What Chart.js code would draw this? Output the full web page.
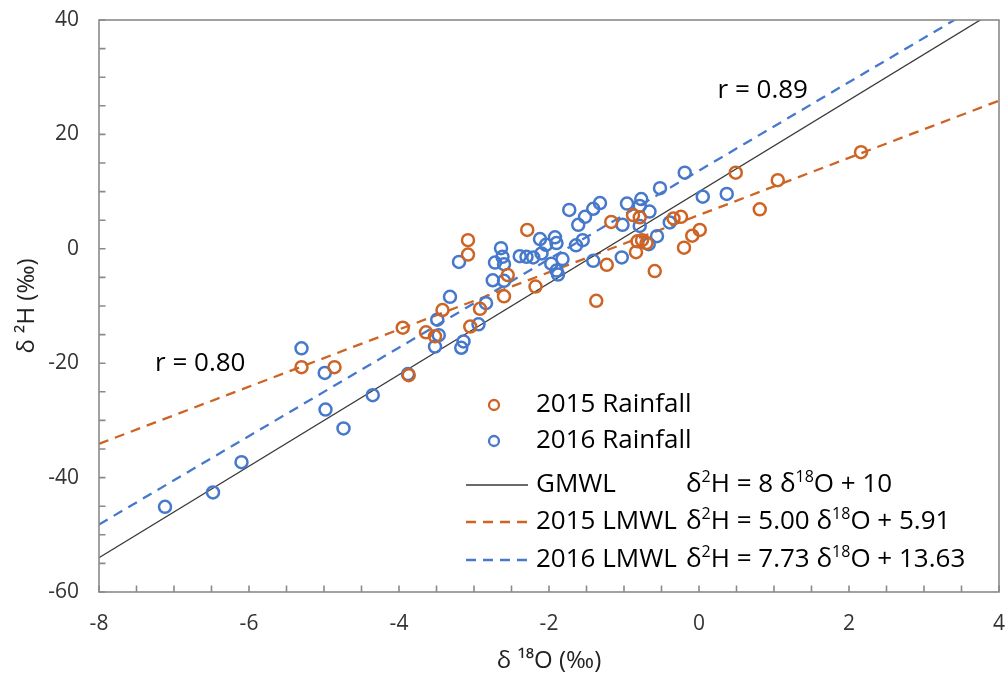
<!DOCTYPE html>
<html>
<head>
<meta charset="utf-8">
<script src="https://cdn.jsdelivr.net/npm/chart.js@4.4.1/dist/chart.umd.min.js"></script>
<style>
  html, body { margin: 0; padding: 0; background: #ffffff; }
  #wrap { width: 1008px; height: 678px; }
</style>
</head>
<body>
<div id="wrap"><canvas id="c" width="1008" height="678"></canvas></div>
<script>
// ---------------- data ----------------
const rain2015X = [-5.30,-4.86,-3.87,-3.95,-3.64,-3.52,-3.42,-3.05,-2.92,-3.08,-3.08,-2.60,-2.55,-2.29,-2.18,-1.37,-1.23,-1.17,-0.88,-0.79,-0.34,-0.24,-0.82,-0.76,-0.70,-0.84,-0.59,-0.20,-0.09,0.01,0.49,0.81,1.05,2.16];
const rain2015Y = [-20.7,-20.7,-22.1,-13.8,-14.6,-15.3,-10.7,-13.6,-10.5,1.5,-1.0,-8.3,-4.6,3.3,-6.6,-9.1,-2.8,4.7,5.9,5.5,5.3,5.6,1.3,1.5,1.0,-0.6,-3.9,0.2,2.3,3.3,13.3,6.9,12.0,16.9];

const rain2016X = [-7.12,-6.48,-6.10,-5.30,-4.99,-4.98,-4.74,-4.35,-3.88,-3.49,-3.47,-3.52,-3.32,-3.20,-3.14,-3.17,-2.94,-2.84,-2.75,-2.60,-2.64,-2.62,-2.72,-2.60,-2.39,-2.30,-2.21,-2.12,-2.04,-2.10,-1.92,-1.90,-1.97,-1.82,-1.90,-1.88,-1.73,-1.61,-1.52,-1.55,-1.64,-1.41,-1.41,-1.32,-1.03,-1.02,-0.96,-0.77,-0.79,-0.66,-0.79,-0.56,-0.67,-0.52,-0.39,-0.19,0.05,0.37];
const rain2016Y = [-45.1,-42.6,-37.3,-17.4,-21.7,-28.1,-31.4,-25.6,-21.9,-12.4,-15.1,-17.1,-8.4,-2.3,-16.2,-17.3,-13.2,-9.5,-5.5,-5.6,0.1,-1.4,-2.4,-2.7,-1.3,-1.4,-1.5,1.7,0.7,-0.8,2.0,1.0,-2.6,-1.8,-3.8,-4.5,6.8,4.2,5.6,1.5,0.6,-2.1,7.0,8.0,-1.5,4.2,7.9,8.7,7.5,6.5,4.0,2.2,0.8,10.6,4.6,13.3,9.1,9.6];

// water line end points
const gmwlX = [-8, 4];
const gmwlY = [-54, 42];
const lmwl2015X = [-8, 4];
const lmwl2015Y = [-34.1, 25.9];
const lmwl2016X = [-8, 4];
const lmwl2016Y = [-48.2, 44.6];

// ticks
const xTickValues = [-8, -6, -4, -2, 0, 2, 4];
const yTickValues = [-60, -40, -20, 0, 20, 40];

// texts
const seriesNames = ['2015 Rainfall', '2016 Rainfall', 'GMWL', '2015 LMWL', '2016 LMWL'];
const equations = [
  null,
  null,
  [['δ'], ['2', 1], ['H = 8 δ'], ['18', 1], ['O + 10']],
  [['δ'], ['2', 1], ['H = 5.00 δ'], ['18', 1], ['O + 5.91']],
  [['δ'], ['2', 1], ['H = 7.73 δ'], ['18', 1], ['O + 13.63']]
];
const rLabels = ['r = 0.89', 'r = 0.80'];
const rLabelX = [0.85, -6.65];
const rLabelY = [27.6, -20.0];
const xTitle = 'δ ¹⁸O (‰)';
const yTitle = 'δ ²H (‰)';

// ---------------- styling ----------------
const ORANGE = '#CD6424';
const BLUE = '#4678CC';
const FRAME = '#8a8a8a';
const FONT = '"Open Sans", "Noto Sans", sans-serif';

const pts = (xs, ys) => xs.map((v, i) => ({ x: v, y: ys[i] }));

function drawRich(ctx, x, y, parts, size, color) {
  let cx = x;
  ctx.fillStyle = color;
  ctx.textAlign = 'left';
  ctx.textBaseline = 'middle';
  for (const p of parts) {
    const sup = p[1] === 1;
    const s = sup ? Math.round(size * 0.62) : size;
    ctx.font = s + 'px ' + FONT;
    ctx.fillText(p[0], cx, sup ? y - size * 0.3 : y);
    cx += ctx.measureText(p[0]).width;
  }
}

const decor = {
  id: 'decor',
  afterDraw(chart) {
    const { ctx, chartArea: a, scales } = chart;
    const xs = scales.x, ys = scales.y;
    ctx.save();
    // frame
    ctx.strokeStyle = FRAME;
    ctx.lineWidth = 1.6;
    ctx.strokeRect(a.left, a.top, a.right - a.left, a.bottom - a.top);
    // inward tick marks
    ctx.beginPath();
    for (let v = xs.min; v <= xs.max + 1e-9; v += 0.5) {
      const px = xs.getPixelForValue(v);
      ctx.moveTo(px, a.bottom);
      ctx.lineTo(px, a.bottom - 6.5);
    }
    for (let v = ys.min; v <= ys.max + 1e-9; v += 5) {
      const py = ys.getPixelForValue(v);
      ctx.moveTo(a.left, py);
      ctx.lineTo(a.left + 6.5, py);
    }
    ctx.stroke();

    // r annotations
    ctx.fillStyle = '#000';
    ctx.font = '26px ' + FONT;
    ctx.textAlign = 'center';
    ctx.textBaseline = 'middle';
    rLabels.forEach((t, i) => {
      ctx.fillText(t, xs.getPixelForValue(rLabelX[i]), ys.getPixelForValue(rLabelY[i]));
    });

    // legend
    const rowsY = [405, 441, 485, 522, 560];
    const symX = 466, symW = 62, textX = 536, eqX = 686;
    chart.data.datasets.forEach((ds, i) => {
      const yy = rowsY[i];
      ctx.strokeStyle = ds.borderColor;
      if (ds.showLine) {
        ctx.lineWidth = ds.borderWidth;
        ctx.setLineDash(ds.borderDash || []);
        ctx.beginPath();
        ctx.moveTo(symX, yy);
        ctx.lineTo(symX + symW, yy);
        ctx.stroke();
        ctx.setLineDash([]);
      } else {
        ctx.lineWidth = 2.3;
        ctx.beginPath();
        ctx.arc(symX + symW / 2 - 3, yy, 5, 0, Math.PI * 2);
        ctx.stroke();
      }
      ctx.fillStyle = '#000';
      ctx.font = '26px ' + FONT;
      ctx.textAlign = 'left';
      ctx.textBaseline = 'middle';
      ctx.fillText(seriesNames[i], textX, yy);
      if (equations[i]) drawRich(ctx, eqX, yy, equations[i], 26, '#000');
    });
    ctx.restore();
  }
};

const chart = new Chart(document.getElementById('c'), {
  type: 'scatter',
  data: {
    datasets: [
      {
        label: seriesNames[0], data: pts(rain2015X, rain2015Y),
        borderColor: ORANGE, backgroundColor: 'rgba(0,0,0,0)',
        pointRadius: 6, pointBorderWidth: 2.5, pointHoverRadius: 6, showLine: false
      },
      {
        label: seriesNames[1], data: pts(rain2016X, rain2016Y),
        borderColor: BLUE, backgroundColor: 'rgba(0,0,0,0)',
        pointRadius: 6, pointBorderWidth: 2.5, pointHoverRadius: 6, showLine: false
      },
      {
        label: seriesNames[2], data: pts(gmwlX, gmwlY),
        borderColor: '#3a3a3a', borderWidth: 1.3, pointRadius: 0, showLine: true, fill: false
      },
      {
        label: seriesNames[3], data: pts(lmwl2015X, lmwl2015Y),
        borderColor: ORANGE, borderWidth: 2.3, borderDash: [10, 7], pointRadius: 0, showLine: true, fill: false
      },
      {
        label: seriesNames[4], data: pts(lmwl2016X, lmwl2016Y),
        borderColor: BLUE, borderWidth: 2.3, borderDash: [10, 7], pointRadius: 0, showLine: true, fill: false
      }
    ]
  },
  options: {
    responsive: false,
    animation: false,
    devicePixelRatio: 1,
    layout: { autoPadding: false, padding: { left: 0, right: 9, top: 20, bottom: 0 } },
    plugins: { legend: { display: false }, tooltip: { enabled: false } },
    scales: {
      x: {
        type: 'linear', min: -8, max: 4,
        afterBuildTicks: s => { s.ticks = xTickValues.map(v => ({ value: v })); },
        afterFit: s => { s.height = 86; s.paddingLeft = 0; s.paddingRight = 0; },
        grid: { display: false, drawTicks: false },
        border: { display: false },
        ticks: { padding: 19, color: '#333', font: { family: FONT, size: 21 }, maxRotation: 0 },
        title: { display: true, text: xTitle, color: '#222', font: { family: FONT, size: 24 }, padding: { top: 0, bottom: 2 } }
      },
      y: {
        type: 'linear', min: -60, max: 40,
        afterBuildTicks: s => { s.ticks = yTickValues.map(v => ({ value: v })); },
        afterFit: s => { s.width = 99; s.paddingTop = 0; s.paddingBottom = 0; },
        grid: { display: false, drawTicks: false },
        border: { display: false },
        ticks: { padding: 20, color: '#333', font: { family: FONT, size: 21 } },
        title: { display: true, text: yTitle, color: '#222', font: { family: FONT, size: 24 }, padding: { top: 13, bottom: 0 } }
      }
    }
  },
  plugins: [decor]
});
</script>
</body>
</html>
